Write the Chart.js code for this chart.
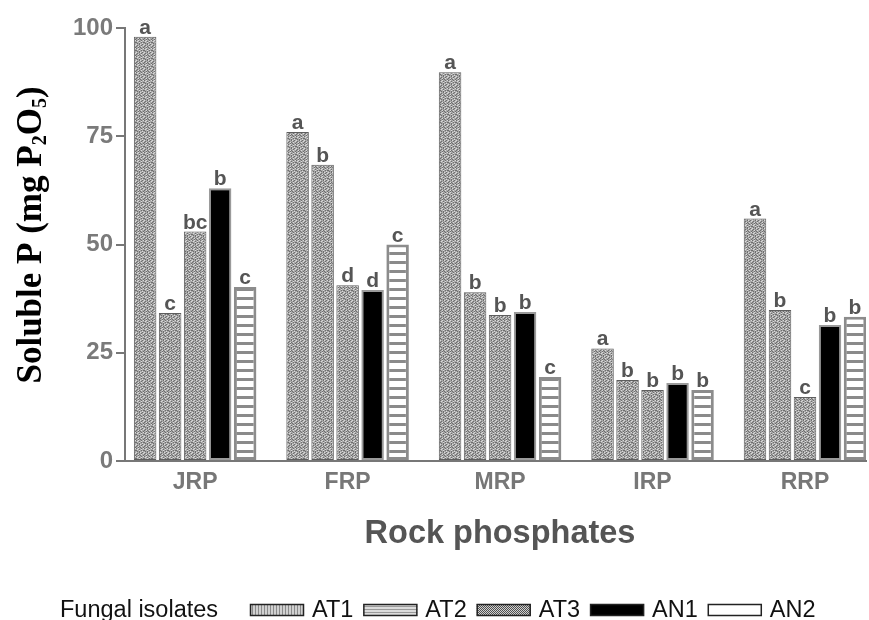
<!DOCTYPE html>
<html>
<head>
<meta charset="utf-8">
<script src="https://cdn.jsdelivr.net/npm/chart.js@4.4.0/dist/chart.umd.min.js"></script>
<style>
  html, body { margin: 0; padding: 0; background: #fff; }
</style>
</head>
<body>
<canvas id="chart" width="869" height="620"></canvas>
<script>
// soluble P released by each fungal isolate from five rock phosphates
const rockPhosphates = ['JRP', 'FRP', 'MRP', 'IRP', 'RRP'];
const isolates = ['AT1', 'AT2', 'AT3', 'AN1', 'AN2'];
const at1 = [98, 76, 89.8, 26, 56];
const at2 = [34.2, 68.4, 39, 18.7, 34.9];
const at3 = [53, 40.6, 33.7, 16.4, 14.8];
const an1 = [63, 39.5, 34.4, 18, 31.4];
const an2 = [40.2, 50, 19.4, 16.4, 33.3];
// significance letters, one per bar
const at1Letters = ['a', 'a', 'a', 'a', 'a'];
const at2Letters = ['c', 'b', 'b', 'b', 'b'];
const at3Letters = ['bc', 'd', 'b', 'b', 'c'];
const an1Letters = ['b', 'd', 'b', 'b', 'b'];
const an2Letters = ['c', 'c', 'c', 'b', 'b'];
const yTicks = [0, 25, 50, 75, 100];

function tile(w, h, paint) {
    const c = document.createElement('canvas');
    c.width = w; c.height = h;
    const g = c.getContext('2d');
    paint(g);
    return g.createPattern(c, 'repeat');
}

// speckled grey used for the AT bars
const grainMap = [
    'x.o..x.o',
    '.o.x.o..',
    'x..o.x.x',
    '.x.x..o.',
    'o..xo.x.',
    '.x...x.o',
    'x.ox.o..',
    '..x.x..x'
];
const grain = tile(8, 8, g => {
    const shade = { 'x': '#6e6e6e', 'o': '#dadada', '.': '#a8a8a8' };
    grainMap.forEach((row, y) => {
        row.split('').forEach((ch, x) => {
            g.fillStyle = shade[ch];
            g.fillRect(x, y, 1, 1);
        });
    });
});
// white bar with grey rungs
const ladder = tile(1, 9, g => {
    g.fillStyle = '#fff'; g.fillRect(0, 0, 1, 9);
    g.fillStyle = '#8a8a8a'; g.fillRect(0, 0, 1, 3);
});

// legend swatches
const swatchAT1 = tile(3, 1, g => {
    g.fillStyle = '#d0d0d0'; g.fillRect(0, 0, 3, 1);
    g.fillStyle = '#8a8a8a'; g.fillRect(0, 0, 1, 1);
});
const swatchAT2 = tile(1, 3, g => {
    g.fillStyle = '#dcdcdc'; g.fillRect(0, 0, 1, 3);
    g.fillStyle = '#9a9a9a'; g.fillRect(0, 0, 1, 1);
});
const swatchAT3 = tile(2, 2, g => {
    g.fillStyle = '#d0d0d0'; g.fillRect(0, 0, 2, 2);
    g.fillStyle = '#505050'; g.fillRect(0, 0, 1, 1); g.fillRect(1, 1, 1, 1);
});

const seriesValues = [at1, at2, at3, an1, an2];
const seriesLetters = [at1Letters, at2Letters, at3Letters, an1Letters, an2Letters];
const barFills = [grain, grain, grain, '#000', ladder];
const barBorders = ['#5e5e5e', '#5e5e5e', '#5e5e5e', '#9a9a9a', '#8c8c8c'];
const barBorderWidths = [1, 1, 1, 2, 3];
const legendFills = [swatchAT1, swatchAT2, swatchAT3, '#000', '#fff'];

const datasets = isolates.map((name, i) => ({
    label: name,
    data: seriesValues[i].map((v, k) => ({ x: k, y: v })),
    letters: seriesLetters[i],
    legendFill: legendFills[i],
    backgroundColor: barFills[i],
    borderColor: barBorders[i],
    borderWidth: barBorderWidths[i],
    borderSkipped: false,
    categoryPercentage: 0.82,
    barPercentage: 0.9
}));

const extras = {
    id: 'extras',
    afterDatasetsDraw(chart) {
        const ctx = chart.ctx;
        ctx.save();
        // letters above bars
        ctx.font = 'bold 21px "Liberation Sans", Arial, sans-serif';
        ctx.fillStyle = '#555';
        ctx.textAlign = 'center';
        ctx.textBaseline = 'alphabetic';
        chart.data.datasets.forEach((ds, i) => {
            chart.getDatasetMeta(i).data.forEach((bar, k) => {
                ctx.fillText(ds.letters[k], bar.x, bar.y - 3);
            });
        });

        // y title with subscripts
        const big = 35, small = 20;
        const parts = [
            ['Soluble P (mg P', big, 0],
            ['2', small, 5],
            ['O', big, 0],
            ['5', small, 5],
            [')', big, 0]
        ];
        const fontOf = s => 'bold ' + s + 'px "Liberation Serif", "Times New Roman", serif';
        let total = 0;
        parts.forEach(p => { ctx.font = fontOf(p[1]); total += ctx.measureText(p[0]).width; });
        ctx.translate(41, 235);
        ctx.rotate(-Math.PI / 2);
        ctx.fillStyle = '#000';
        ctx.textAlign = 'left';
        let pos = -total / 2;
        parts.forEach(p => {
            ctx.font = fontOf(p[1]);
            ctx.fillText(p[0], pos, p[2]);
            pos += ctx.measureText(p[0]).width;
        });
        ctx.setTransform(1, 0, 0, 1, 0, 0);

        // x title
        ctx.font = 'bold 32.5px "Liberation Sans", Arial, sans-serif';
        ctx.fillStyle = '#555';
        ctx.textAlign = 'center';
        ctx.fillText('Rock phosphates', 500, 543);

        // legend row
        ctx.font = '23.5px "Liberation Sans", Arial, sans-serif';
        ctx.fillStyle = '#111';
        ctx.textAlign = 'left';
        ctx.fillText('Fungal isolates', 60, 617);
        let x = 250;
        chart.data.datasets.forEach(ds => {
            ctx.fillStyle = ds.legendFill;
            ctx.fillRect(x, 604, 54, 12);
            ctx.strokeStyle = '#222';
            ctx.lineWidth = 1.5;
            ctx.strokeRect(x + 0.5, 604.5, 53, 11);
            ctx.fillStyle = '#111';
            ctx.fillText(ds.label, x + 62, 617);
            x += 62 + ctx.measureText(ds.label).width + 10;
        });
        ctx.restore();
    }
};

new Chart(document.getElementById('chart'), {
    type: 'bar',
    data: { datasets: datasets },
    plugins: [extras],
    options: {
        responsive: false,
        animation: false,
        layout: { padding: { top: 28, right: 3, bottom: 0, left: 0 } },
        plugins: { legend: { display: false }, tooltip: { enabled: false } },
        scales: {
            x: {
                type: 'linear',
                min: -0.46,
                max: 4.4,
                offset: false,
                grid: { display: false },
                border: { color: '#777', width: 2 },
                ticks: {
                    stepSize: 1,
                    includeBounds: false,
                    autoSkip: false,
                    maxRotation: 0,
                    padding: 0,
                    color: '#777',
                    font: { family: '"Liberation Sans", Arial, sans-serif', size: 23, weight: 'bold' },
                    callback: v => Number.isInteger(v) ? (rockPhosphates[v] || '') : ''
                },
                afterFit: s => { s.height = 159; }
            },
            y: {
                min: yTicks[0],
                max: yTicks[yTicks.length - 1],
                grid: { drawOnChartArea: false, tickLength: 9, color: '#777', lineWidth: 2 },
                border: { color: '#777', width: 2 },
                ticks: {
                    stepSize: 25,
                    padding: 3,
                    color: '#7a7a7a',
                    font: { family: '"Liberation Sans", Arial, sans-serif', size: 24, weight: 'bold' }
                },
                afterBuildTicks: s => { s.ticks = yTicks.map(v => ({ value: v })); },
                afterFit: s => { s.width = 125; }
            }
        }
    }
});
</script>
</body>
</html>
